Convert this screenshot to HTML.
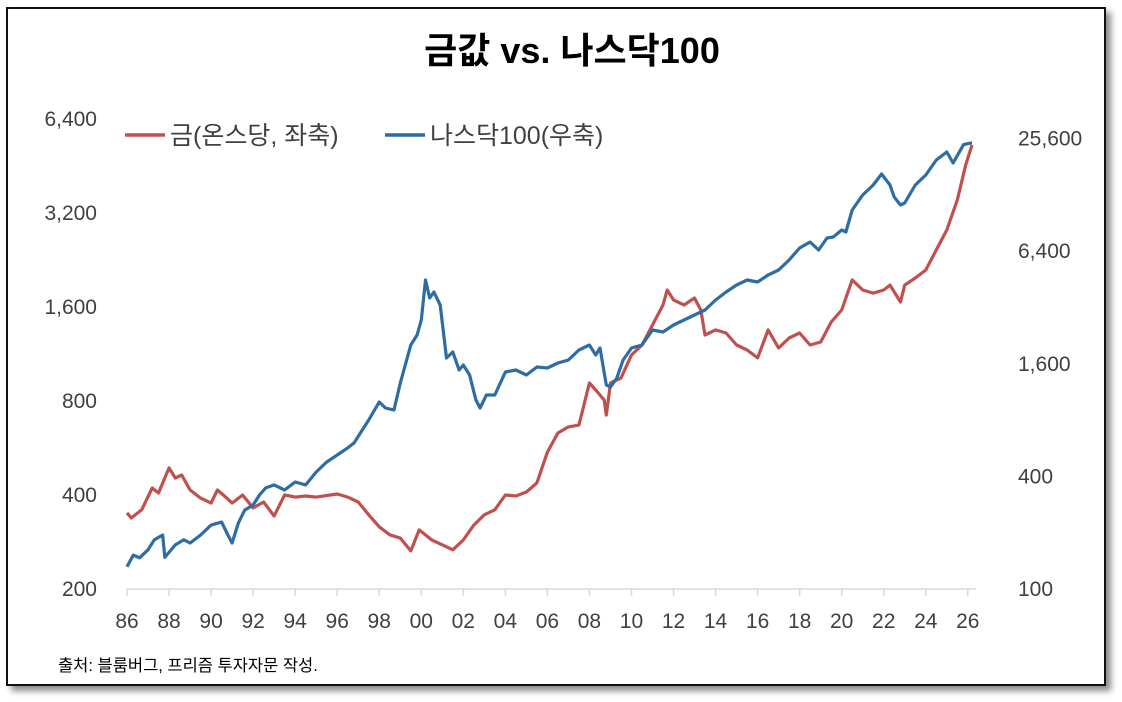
<!DOCTYPE html>
<html><head><meta charset="utf-8"><style>
html,body{margin:0;padding:0;background:#fff;}
body{width:1122px;height:702px;overflow:hidden;position:relative;font-family:"Liberation Sans","Noto Sans CJK KR",sans-serif;}
#frame{position:absolute;left:6px;top:7px;width:1100px;height:679px;border:2px solid #111;box-shadow:5px 5px 6px rgba(0,0,0,0.45);background:#fff;box-sizing:border-box;}
svg{position:absolute;left:0;top:0;}
</style></head><body>
<div id="frame"></div>
<svg id="chart" width="1122" height="702">
<text x="572" y="63" text-anchor="middle" font-size="36" font-weight="bold" fill="#000" font-family="Liberation Sans, Noto Sans CJK KR, sans-serif">금값 vs. 나스닥100</text>
<g>
<line x1="125" y1="135" x2="165" y2="135" stroke="#c0504d" stroke-width="3.5"/>
<text x="170" y="144" font-size="25" fill="#404040" font-family="Liberation Sans, Noto Sans CJK KR, sans-serif">금(온스당, 좌축)</text>
<line x1="385" y1="135" x2="425" y2="135" stroke="#2e6ca4" stroke-width="3.5"/>
<text x="430" y="144" font-size="25" fill="#404040" font-family="Liberation Sans, Noto Sans CJK KR, sans-serif">나스닥100(우축)</text>
</g>
<text x="58" y="671" font-size="16.5" fill="#000" font-family="Liberation Sans, Noto Sans CJK KR, sans-serif">출처: 블룸버그, 프리즘 투자자문 작성.</text>
<g id="axes"></g>
<g id="series"></g>
</svg>
<script>
const leftTicks=[200,400,800,1600,3200,6400];
const leftTickLabels=["200","400","800","1,600","3,200","6,400"];
const rightTicks=[100,400,1600,6400,25600];
const rightTickLabels=["100","400","1,600","6,400","25,600"];
const xTickYears=[1986,1988,1990,1992,1994,1996,1998,2000,2002,2004,2006,2008,2010,2012,2014,2016,2018,2020,2022,2024,2026];
const xTickLabels=["86","88","90","92","94","96","98","00","02","04","06","08","10","12","14","16","18","20","22","24","26"];
const goldDates=[1986.0,1986.2,1986.7,1987.2,1987.5,1987.8,1988.0,1988.3,1988.6,1989.0,
1989.5,1990.0,1990.3,1990.7,1991.0,1991.5,1992.0,1992.5,1993.0,1993.5,
1994.0,1994.5,1995.0,1996.0,1996.5,1997.0,1997.5,1998.0,1998.5,1999.0,
1999.5,1999.9,2000.5,2001.0,2001.5,2002.0,2002.5,2003.0,2003.5,2004.0,
2004.5,2005.0,2005.5,2006.0,2006.5,2007.0,2007.5,2008.0,2008.3,2008.7,
2008.8,2009.0,2009.5,2010.0,2010.5,2011.0,2011.5,2011.7,2012.0,2012.5,
2013.0,2013.3,2013.5,2014.0,2014.5,2015.0,2015.5,2016.0,2016.5,2017.0,
2017.5,2018.0,2018.5,2019.0,2019.5,2020.0,2020.5,2021.0,2021.5,2022.0,
2022.3,2022.8,2023.0,2023.5,2024.0,2024.5,2025.0,2025.5,2025.9,2026.2];
const goldValues=[348,335,356,418,403,450,485,450,460,412,
388,374,412,391,374,397,361,377,340,397,
391,394,391,400,391,377,343,314,296,289,
263,307,285,275,265,285,318,343,356,397,
394,406,434,545,627,656,665,907,861,800,
716,907,941,1115,1200,1391,1612,1800,1673,1612,
1697,1553,1292,1341,1311,1200,1157,1091,1341,1174,
1264,1311,1200,1227,1422,1553,1939,1800,1760,1800,
1867,1648,1867,1967,2086,2420,2803,3497,4525,5246];
const ndxDates=[1986.0,1986.3,1986.6,1987.0,1987.3,1987.7,1987.8,1988.3,1988.7,1989.0,
1989.5,1990.0,1990.5,1990.8,1991.0,1991.3,1991.6,1992.0,1992.3,1992.6,
1993.0,1993.5,1994.0,1994.5,1995.0,1995.5,1996.0,1996.5,1996.8,1997.5,
1998.0,1998.3,1998.7,1999.0,1999.5,1999.8,2000.0,2000.2,2000.4,2000.6,
2000.9,2001.2,2001.5,2001.8,2002.0,2002.3,2002.6,2002.8,2003.1,2003.5,
2004.0,2004.5,2005.0,2005.5,2006.0,2006.5,2007.0,2007.5,2008.0,2008.3,
2008.5,2008.8,2009.0,2009.3,2009.6,2010.0,2010.5,2011.0,2011.5,2012.0,
2012.5,2013.0,2013.5,2014.0,2014.5,2015.0,2015.5,2016.0,2016.5,2017.0,
2017.5,2018.0,2018.5,2018.9,2019.3,2019.6,2020.0,2020.2,2020.5,2021.0,
2021.5,2021.9,2022.3,2022.5,2022.8,2023.0,2023.5,2024.0,2024.5,2025.0,
2025.3,2025.8,2026.2];
const ndxValues=[130,150,145,160,181,192,146,170,181,174,
192,217,225,192,174,223,261,278,314,343,
356,334,369,356,417,472,514,561,596,791,
987,917,895,1248,1992,2253,2710,4434,3553,3827,
3260,1697,1827,1464,1557,1377,1012,917,1076,1076,
1429,1464,1377,1519,1501,1596,1656,1873,1992,1761,
1920,1218,1188,1327,1656,1920,1992,2396,2337,2548,
2710,2882,3065,3466,3827,4170,4434,4326,4717,5016,
5672,6577,7083,6418,7438,7529,8208,8007,10503,12629,
14286,16353,14286,12325,11165,11440,14286,16160,19435,21442,
18730,23500,24000];

const NS="http://www.w3.org/2000/svg";
const X0=127, PXY=21.02, BASEY=588;
const xScale=t=>X0+(t-1986)*PXY;
const yLeft=v=>BASEY-94*Math.log2(v/200);
const yRight=v=>BASEY-56.3*Math.log2(v/100);
const axes=document.getElementById('axes');
const series=document.getElementById('series');
function mk(tag,attrs,parent){const e=document.createElementNS(NS,tag);for(const k in attrs)e.setAttribute(k,attrs[k]);parent.appendChild(e);return e;}

const xl=mk('line',{x1:X0,y1:589,x2:xScale(2026.4),y2:589,stroke:'#d9d9d9','stroke-width':1.5},axes);


xTickYears.forEach((yr,i)=>{
  const x=xScale(yr);
  const t=mk('line',{x1:x,y1:589,x2:x,y2:596,stroke:'#d9d9d9','stroke-width':1.5},axes);
  
  
  const l=mk('text',{x:x,y:628,'text-anchor':'middle','font-size':21,fill:'#404040'},axes);
  l.textContent=xTickLabels[i];
  
  
});
leftTicks.forEach((v,i)=>{
  const l=mk('text',{x:97,y:yLeft(v)+8,'text-anchor':'end','font-size':21,fill:'#404040'},axes);
  l.textContent=leftTickLabels[i];
  
  
});
rightTicks.forEach((v,i)=>{
  const l=mk('text',{x:1018,y:yRight(v)+8,'text-anchor':'start','font-size':21,fill:'#404040'},axes);
  l.textContent=rightTickLabels[i];
  
  
});
function path(dates,vals,ys){
  const n=Math.min(dates.length,vals.length);
  let d='';
  for(let i=0;i<n;i++){d+=(i?'L':'M')+xScale(dates[i]).toFixed(1)+','+ys(vals[i]).toFixed(1);}
  return d;
}
const g=mk('path',{d:path(goldDates,goldValues,yLeft),fill:'none',stroke:'#c0504d','stroke-width':3.2,'stroke-linejoin':'round'},series);


const n=mk('path',{d:path(ndxDates,ndxValues,yRight),fill:'none',stroke:'#2e6ca4','stroke-width':3.2,'stroke-linejoin':'round'},series);


</script>
</body></html>
